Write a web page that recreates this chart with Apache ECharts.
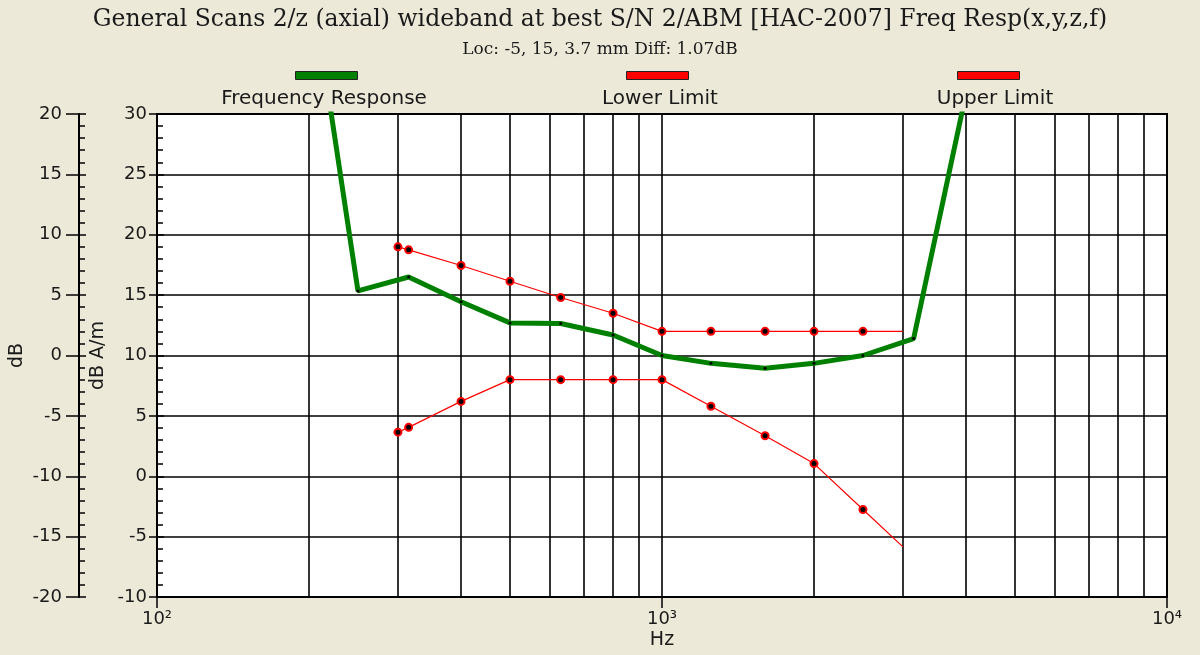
<!DOCTYPE html>
<html>
<head>
<meta charset="utf-8">
<title>Freq Resp</title>
<script src="https://cdn.jsdelivr.net/npm/echarts@6/dist/echarts.min.js"></script>
<style>
html, body { margin: 0; padding: 0; background: #ece9d8; }
#chart { width: 1200px; height: 655px; }
</style>
</head>
<body>
<div id="chart"></div>
<script>
// values (dB A/m scale)
var respHz = [200, 250, 315, 400, 500, 630, 800, 1000, 1250, 1600, 2000, 2500, 3150, 4000];
var respDb = [42.2, 15.35, 16.5, 14.45, 12.7, 12.65, 11.7, 10.0, 9.35, 8.95, 9.35, 10.0, 11.4, 31.7];
var limitHz = [300, 315, 400, 500, 630, 800, 1000, 1250, 1600, 2000, 2500, 3000];
var lowerDb = [3.65, 4.05, 6.2, 8, 8, 8, 8, 5.8, 3.35, 1.05, -2.75, -5.85];
var upperDb = [19, 18.75, 17.45, 16.15, 14.8, 13.5, 12, 12, 12, 12, 12, 12];
var minorGridHz = [200, 300, 400, 500, 600, 700, 800, 900, 2000, 3000, 4000, 5000, 6000, 7000, 8000, 9000];
var decadeLabels = { 100: '10²', 1000: '10³', 10000: '10⁴' };
var legendNames = ['Frequency Response', 'Lower Limit', 'Upper Limit'];

var sans = 'DejaVu Sans';
var ink = '#1a1a1a';

// points outside the plot / line ends carry no marker
function pts(xs, ys, hidden, dotStyle) {
  return xs.map(function (x, i) {
    var p = { value: [x, ys[i]], itemStyle: dotStyle };
    if (hidden.indexOf(i) >= 0) p.symbol = 'none';
    return p;
  });
}

var greenDot = { color: '#000' };
var redDot = { color: '#000', borderColor: '#ff0000', borderWidth: 2 };

function yAxisPair(min, max, offset, tickOut, labelMargin, name, nameGap) {
  return [
    {
      type: 'value', min: min, max: max, interval: 5, position: 'left', offset: offset,
      axisLine: { show: true, onZero: false, lineStyle: { color: '#000', width: 2 } },
      axisTick: { show: true, length: tickOut, lineStyle: { color: '#000', width: 1.5 } },
      axisLabel: { margin: labelMargin, fontFamily: sans, fontSize: 18, color: ink },
      splitLine: { show: offset === 0, lineStyle: { color: '#000', width: 1.6 } },
      name: name, nameLocation: 'middle', nameRotate: 90, nameGap: nameGap,
      nameMoveOverlap: false,
      nameTextStyle: { fontFamily: sans, fontSize: 19, color: ink }
    },
    {
      type: 'value', min: min, max: max, interval: 5, position: 'left', offset: offset,
      axisLine: { show: false, onZero: false },
      axisTick: { show: true, inside: true, length: 7, lineStyle: { color: '#000', width: 1.5 } },
      minorTick: { show: true, splitNumber: 5, length: 6, lineStyle: { color: '#000', width: 1.5 } },
      axisLabel: { show: false },
      splitLine: { show: false }
    }
  ];
}

var chart = echarts.init(document.getElementById('chart'));
chart.setOption({
  backgroundColor: '#ece9d8',
  animation: false,
  title: {
    text: 'General Scans 2/z (axial) wideband at best S/N 2/ABM [HAC-2007] Freq Resp(x,y,z,f)',
    subtext: 'Loc: -5, 15, 3.7 mm Diff: 1.07dB',
    left: 'center',
    top: 3,
    itemGap: 9,
    textStyle: { fontFamily: 'DejaVu Serif', fontSize: 23.5, fontWeight: 'normal', color: ink },
    subtextStyle: { fontFamily: 'DejaVu Serif', fontSize: 17, color: ink }
  },
  legend: {
    data: legendNames,
    left: 295,
    top: 71,
    padding: 0,
    icon: 'rect',
    itemWidth: 62,
    itemHeight: 8,
    itemGap: 268,
    formatter: function () { return ''; },
    itemStyle: { borderColor: '#222', borderWidth: 1 },
    selectedMode: false
  },
  graphic: legendNames.map(function (n, i) {
    return {
      type: 'text',
      x: [324, 660, 995][i],
      y: 99,
      style: { text: n, textAlign: 'center', textVerticalAlign: 'middle', fontFamily: sans, fontSize: 20, fill: ink }
    };
  }),
  grid: {
    left: 157, right: 33, top: 114, bottom: 58,
    outerBoundsMode: 'none',
    containLabel: false,
    show: true, backgroundColor: '#fff', borderColor: '#000', borderWidth: 2
  },
  xAxis: {
    type: 'log', logBase: 10, min: 100, max: 10000,
    axisLine: { onZero: false, lineStyle: { color: '#000', width: 2 } },
    axisTick: { length: 11, lineStyle: { color: '#000', width: 1.5 } },
    axisLabel: {
      margin: 13, fontFamily: sans, fontSize: 18, color: ink,
      formatter: function (v) { return decadeLabels[Math.round(v)] || ''; }
    },
    splitLine: { show: true, lineStyle: { color: '#000', width: 1.6 } },
    name: 'Hz', nameLocation: 'middle', nameGap: 34, nameMoveOverlap: false,
    nameTextStyle: { fontFamily: sans, fontSize: 19, color: ink }
  },
  yAxis: yAxisPair(-10, 30, 0, 8, 10, 'dB A/m', 49)
    .concat(yAxisPair(-20, 20, 78, 13, 17, 'dB', 52)),
  series: [
    {
      type: 'line',
      data: [],
      markLine: {
        silent: true,
        z: 1,
        symbol: ['none', 'none'],
        label: { show: false },
        lineStyle: { color: '#000', width: 1.6, type: 'solid' },
        data: minorGridHz.map(function (v) { return { xAxis: v }; })
      }
    },
    {
      name: 'Upper Limit',
      type: 'line',
      z: 3,
      data: pts(limitHz, upperDb, [limitHz.length - 1], redDot),
      symbol: 'circle',
      symbolSize: 7,
      lineStyle: { color: '#ff0000', width: 1.2 },
      itemStyle: { color: '#ff0000' }
    },
    {
      name: 'Lower Limit',
      type: 'line',
      z: 3,
      data: pts(limitHz, lowerDb, [limitHz.length - 1], redDot),
      symbol: 'circle',
      symbolSize: 7,
      lineStyle: { color: '#ff0000', width: 1.2 },
      itemStyle: { color: '#ff0000' }
    },
    {
      name: 'Frequency Response',
      type: 'line',
      z: 4,
      data: pts(respHz, respDb, [0, respHz.length - 1], greenDot),
      symbol: 'circle',
      symbolSize: 3,
      lineStyle: { color: '#008000', width: 5 },
      itemStyle: { color: '#008000' }
    }
  ]
});
</script>
</body>
</html>
